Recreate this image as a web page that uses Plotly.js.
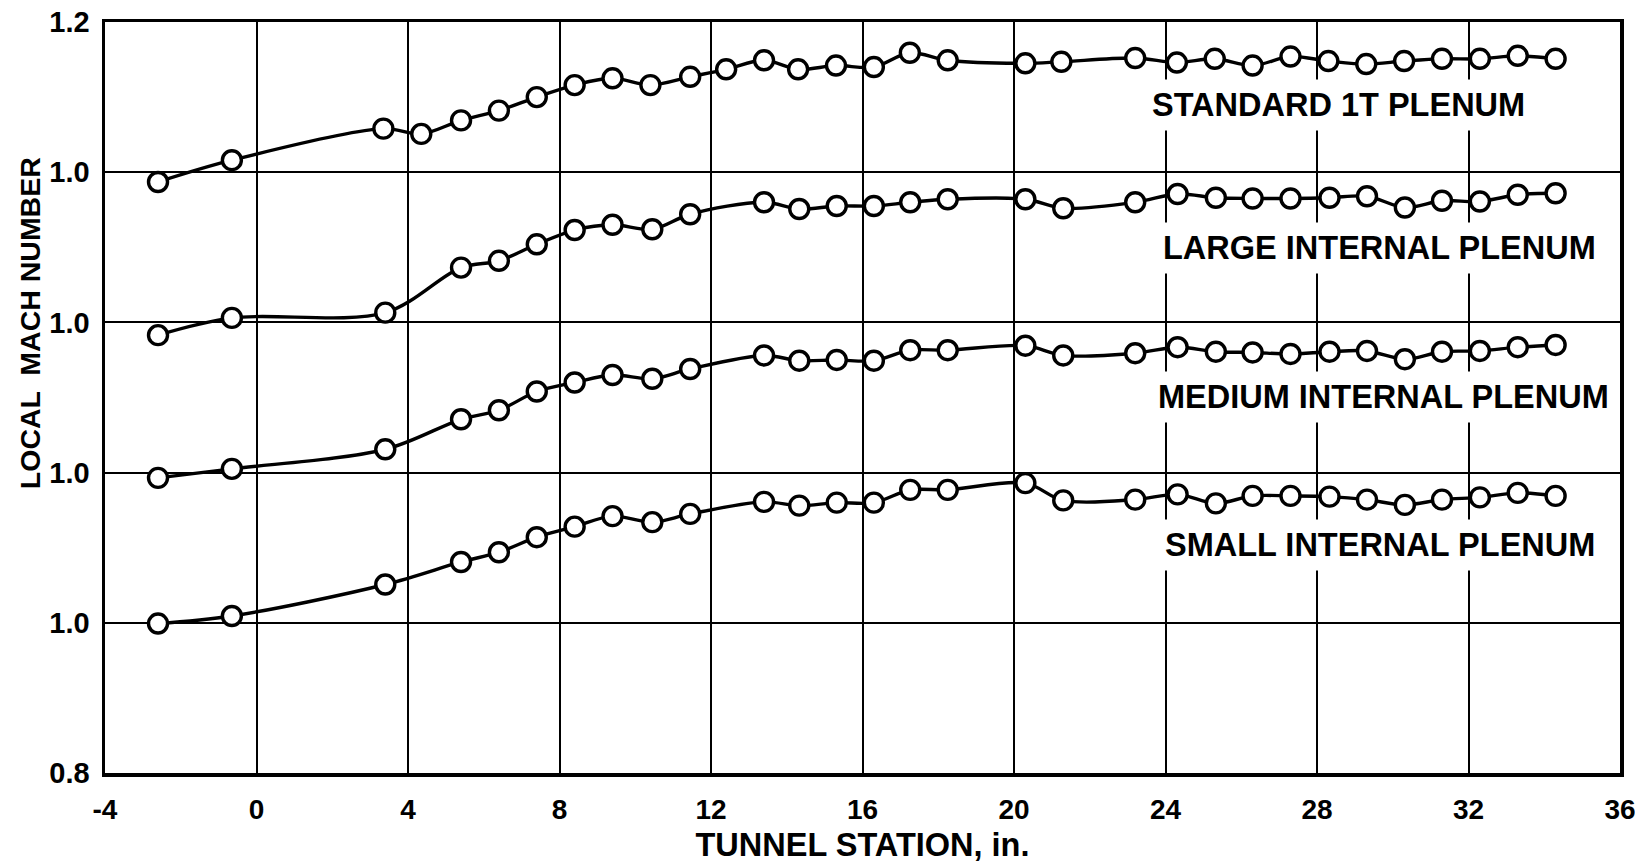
<!DOCTYPE html>
<html>
<head>
<meta charset="utf-8">
<script src="https://cdn.plot.ly/plotly-3.0.1.min.js"></script>
<style>
  html, body { margin: 0; padding: 0; background: #ffffff; }
  #chart { width: 1635px; height: 867px; }
</style>
</head>
<body>
<div id="chart"></div>
<script>
// Tunnel stations (in.)
const stationsStandard = [-2.6, -0.65, 3.35, 4.35, 5.4, 6.4, 7.4, 8.4, 9.4, 10.4, 11.45, 12.4, 13.4, 14.3, 15.3, 16.3, 17.25, 18.25, 20.3, 21.25, 23.2, 24.3, 25.3, 26.3, 27.3, 28.3, 29.3, 30.3, 31.3, 32.3, 33.3, 34.3];
const stationsInternal = [-2.6, -0.65, 3.4, 5.4, 6.4, 7.4, 8.4, 9.4, 10.45, 11.45, 13.4, 14.33, 15.32, 16.3, 17.26, 18.25, 20.3, 21.3, 23.2, 24.32, 25.33, 26.3, 27.3, 28.33, 29.32, 30.32, 31.3, 32.3, 33.3, 34.3];

// Local Mach number for each plenum configuration
const machStandard = [0.987, 1.016, 1.058, 1.051, 1.069, 1.082, 1.100, 1.116, 1.125, 1.116, 1.127, 1.137, 1.149, 1.137, 1.142, 1.140, 1.159, 1.149, 1.145, 1.147, 1.152, 1.146, 1.151, 1.142, 1.154, 1.148, 1.144, 1.148, 1.151, 1.151, 1.155, 1.151];
const machLarge    = [0.983, 1.006, 1.013, 1.073, 1.082, 1.104, 1.123, 1.130, 1.124, 1.144, 1.160, 1.151, 1.155, 1.155, 1.160, 1.164, 1.164, 1.152, 1.160, 1.171, 1.166, 1.165, 1.165, 1.166, 1.168, 1.153, 1.162, 1.161, 1.170, 1.172];
const machMedium   = [0.993, 1.005, 1.031, 1.071, 1.083, 1.108, 1.120, 1.130, 1.125, 1.138, 1.156, 1.149, 1.150, 1.149, 1.163, 1.163, 1.169, 1.156, 1.159, 1.167, 1.161, 1.160, 1.158, 1.161, 1.162, 1.151, 1.161, 1.162, 1.167, 1.170];
const machSmall    = [0.999, 1.009, 1.051, 1.081, 1.094, 1.114, 1.128, 1.142, 1.134, 1.145, 1.161, 1.156, 1.160, 1.160, 1.177, 1.177, 1.186, 1.163, 1.164, 1.171, 1.159, 1.169, 1.169, 1.168, 1.164, 1.157, 1.164, 1.167, 1.173, 1.169];

// Curve labels and the vertical offset of each stacked curve (Mach units)
const seriesNames = ['STANDARD 1T PLENUM', 'LARGE INTERNAL PLENUM', 'MEDIUM INTERNAL PLENUM', 'SMALL INTERNAL PLENUM'];
const seriesOffsets = [0.6, 0.4, 0.2, 0.0];

// Axis ticks
const xTickVals = [-4, 0, 4, 8, 12, 16, 20, 24, 28, 32, 36];
const yTickVals = [0.8, 1.0, 1.2, 1.4, 1.6, 1.8];
const yTickText = ['0.8', '1.0', '1.0', '1.0', '1.0', '1.2'];

const FONT = 'Liberation Sans, Arial, sans-serif';

const seriesX = [stationsStandard, stationsInternal, stationsInternal, stationsInternal];
const seriesY = [machStandard, machLarge, machMedium, machSmall];

const traces = seriesY.map((vals, i) => ({
  type: 'scatter',
  mode: 'lines+markers',
  name: seriesNames[i],
  x: seriesX[i],
  y: vals.map(v => v + seriesOffsets[i]),
  line: { color: '#000', width: 3.4, shape: 'spline', smoothing: 0.95 },
  marker: { symbol: 'circle', size: 19, color: '#fff', line: { color: '#000', width: 3.4 } },
  hoverinfo: 'skip',
  cliponaxis: false
}));

const labelPos = [
  { x: 0.814, y: 0.889 },
  { x: 0.841, y: 0.699 },
  { x: 0.844, y: 0.501 },
  { x: 0.8415, y: 0.304 }
];

const annotations = seriesNames.map((t, i) => ({
  text: t,
  xref: 'paper', yref: 'paper',
  x: labelPos[i].x, y: labelPos[i].y,
  xanchor: 'center', yanchor: 'middle',
  showarrow: false,
  bgcolor: '#fff',
  borderpad: 7,
  font: { family: FONT, size: 32.5, color: '#000', weight: 700 }
}));

annotations.push({
  text: 'LOCAL  MACH NUMBER',
  xref: 'paper', yref: 'paper',
  x: -0.0495, y: 0.599,
  xanchor: 'center', yanchor: 'middle',
  textangle: -90,
  showarrow: false,
  font: { family: FONT, size: 28.5, color: '#000', weight: 700 }
});

const layout = {
  width: 1635,
  height: 867,
  paper_bgcolor: '#fff',
  plot_bgcolor: '#fff',
  showlegend: false,
  margin: { l: 105, r: 15, t: 22, b: 94 },
  xaxis: {
    range: [-4, 36],
    tickvals: xTickVals,
    ticktext: xTickVals.map(String),
    ticks: '',
    ticklabelstandoff: 9,
    ticklabeloverflow: 'allow',
    showgrid: true,
    gridcolor: '#000',
    gridwidth: 2,
    zeroline: false,
    showline: true,
    linecolor: '#000',
    linewidth: 3.5,
    mirror: true,
    tickfont: { family: FONT, size: 28, color: '#000', weight: 700 },
    title: {
      text: 'TUNNEL STATION, in.',
      font: { family: FONT, size: 32.5, color: '#000', weight: 700 },
      standoff: 10
    }
  },
  yaxis: {
    range: [0.8, 1.8],
    tickvals: yTickVals,
    ticktext: yTickText,
    ticks: '',
    ticklabelstandoff: 6,
    ticklabeloverflow: 'allow',
    showgrid: true,
    gridcolor: '#000',
    gridwidth: 2,
    zeroline: false,
    showline: true,
    linecolor: '#000',
    linewidth: 3.5,
    mirror: true,
    tickfont: { family: FONT, size: 29, color: '#000', weight: 700 }
  },
  annotations: annotations
};

Plotly.newPlot('chart', traces, layout, { staticPlot: true, displayModeBar: false });
</script>
</body>
</html>
